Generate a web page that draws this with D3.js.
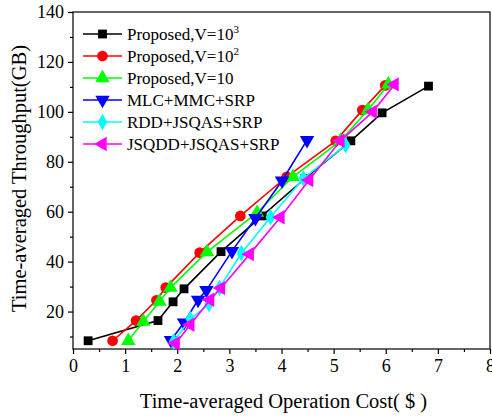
<!DOCTYPE html>
<html>
<head>
<meta charset="utf-8">
<script src="https://cdn.jsdelivr.net/npm/d3@7"></script>
<style>
  body { margin: 0; background: #fff; }
  text { font-family: "Liberation Serif", "Times New Roman", serif; }
</style>
</head>
<body>
<div id="chart"></div>
<script>
// series names, colours and marker symbols
var seriesNames = ["Proposed,V=10^3", "Proposed,V=10^2", "Proposed,V=10",
                   "MLC+MMC+SRP", "RDD+JSQAS+SRP", "JSQDD+JSQAS+SRP"];
var seriesColors = ["#000000", "#ff0000", "#00ff00", "#0000ff", "#00ffff", "#ff00ff"];
var seriesMarks = ["square", "circle", "up", "down", "diamond", "left"];

// cost values ($) per series
var costV1000 = [0.29, 1.63, 1.92, 2.13, 2.84, 3.63, 4.45, 5.33, 5.93, 6.82];
var costV100  = [0.76, 1.21, 1.60, 1.78, 2.43, 3.21, 4.10, 5.04, 5.55, 5.99];
var costV10   = [1.06, 1.35, 1.66, 1.87, 2.57, 3.53, 4.22, 5.13, 5.66, 6.05];
var costMLC   = [1.88, 2.13, 2.40, 2.56, 3.05, 3.50, 4.01, 4.49];
var costRDD   = [1.93, 2.25, 2.61, 2.81, 3.23, 3.79, 4.42, 5.23];
var costJSQDD = [1.97, 2.25, 2.63, 2.84, 3.39, 3.98, 4.53, 5.13, 5.75, 6.17];

// throughput values (GB) per series
var tpV1000 = [8.3, 16.4, 23.9, 29.1, 44.0, 58.3, 73.3, 88.4, 99.6, 110.3];
var tpV100  = [8.3, 16.4, 24.5, 29.6, 43.6, 58.3, 74.0, 88.4, 100.7, 110.6];
var tpV10   = [8.3, 16.0, 24.0, 29.6, 43.8, 59.6, 74.0, 88.4, 100.7, 111.0];
var tpMLC   = [8.5, 15.6, 24.7, 28.6, 44.2, 57.4, 72.4, 88.7];
var tpRDD   = [8.0, 17.0, 23.0, 29.5, 43.4, 57.8, 73.4, 86.7];
var tpJSQDD = [7.3, 14.7, 24.7, 29.4, 43.0, 57.8, 72.7, 88.4, 100.0, 111.0];

var xTicks = [0, 1, 2, 3, 4, 5, 6, 7, 8];
var yTicks = [20, 40, 60, 80, 100, 120, 140];

var allCost = [costV1000, costV100, costV10, costMLC, costRDD, costJSQDD];
var allTp = [tpV1000, tpV100, tpV10, tpMLC, tpRDD, tpJSQDD];

var width = 492,
    height = 418,
    margin = {top: 12, right: 2, bottom: 69, left: 73};

var svg = d3.select("#chart").append("svg")
    .attr("width", width)
    .attr("height", height);

var x = d3.scaleLinear().domain([0, 8]).range([margin.left, width - margin.right]);
var y = d3.scaleLinear().domain([5, 140]).range([height - margin.bottom, margin.top]);

// frame
svg.append("rect")
    .attr("x", x(0)).attr("y", y(140))
    .attr("width", x(8) - x(0)).attr("height", y(5) - y(140))
    .attr("fill", "none").attr("stroke", "#000").attr("stroke-width", 1.2);

// x axis with minor ticks
svg.append("g")
    .attr("transform", "translate(0," + y(5) + ")")
    .call(d3.axisBottom(x).tickValues(xTicks).tickSize(5).tickPadding(5).tickFormat(d3.format("d")));
svg.append("g")
    .attr("transform", "translate(0," + y(5) + ")")
    .call(d3.axisBottom(x).tickValues(d3.range(0.5, 8, 1)).tickSize(3).tickFormat(""));

// y axis with minor ticks
svg.append("g")
    .attr("transform", "translate(" + x(0) + ",0)")
    .call(d3.axisLeft(y).tickValues(yTicks).tickSize(5).tickPadding(4).tickFormat(d3.format("d")));
svg.append("g")
    .attr("transform", "translate(" + x(0) + ",0)")
    .call(d3.axisLeft(y).tickValues(d3.range(10, 140, 20)).tickSize(3).tickFormat(""));

svg.selectAll(".domain").remove();
svg.selectAll(".tick line").attr("stroke", "#000").attr("stroke-width", 1.2);
svg.selectAll(".tick text")
    .attr("fill", "#000")
    .style("font-size", "18px")
    .style("font-family", "'Liberation Serif', serif");

// axis titles
svg.append("text")
    .attr("x", (x(0) + x(8)) / 2 + 2)
    .attr("y", 408)
    .attr("text-anchor", "middle")
    .style("font-size", "20.5px")
    .text("Time-averaged Operation Cost( $ )");

svg.append("text")
    .attr("transform", "translate(26," + ((y(5) + y(140)) / 2 - 2) + ") rotate(-90)")
    .attr("text-anchor", "middle")
    .style("font-size", "20.5px")
    .text("Time-averaged Throughput(GB)");

// marker drawing
function symbolPath(kind) {
    if (kind === "square") return d3.symbol().type(d3.symbolSquare).size(78)();
    if (kind === "circle") return d3.symbol().type(d3.symbolCircle).size(90)();
    if (kind === "diamond") return d3.symbol().type(d3.symbolDiamond).size(80)();
    return d3.symbol().type(d3.symbolTriangle).size(90)();
}
function symbolRotate(kind) {
    if (kind === "down") return 180;
    if (kind === "left") return -90;
    return 0;
}

var line = d3.line()
    .x(function(d) { return x(d[0]); })
    .y(function(d) { return y(d[1]); });

seriesNames.forEach(function(name, i) {
    var pts = allCost[i].map(function(c, j) { return [c, allTp[i][j]]; });
    var g = svg.append("g").attr("class", "series");
    g.append("path")
        .datum(pts)
        .attr("d", line)
        .attr("fill", "none")
        .attr("stroke", seriesColors[i])
        .attr("stroke-width", 1.6);
    g.selectAll(".mark")
        .data(pts)
        .enter().append("path")
        .attr("class", "mark")
        .attr("d", symbolPath(seriesMarks[i]))
        .attr("transform", function(d) {
            return "translate(" + x(d[0]) + "," + y(d[1]) + ") rotate(" + symbolRotate(seriesMarks[i]) + ")";
        })
        .attr("fill", seriesColors[i]);
});

// legend
var legend = svg.append("g").attr("transform", "translate(83,34)");
seriesNames.forEach(function(name, i) {
    var row = legend.append("g").attr("transform", "translate(0," + (i * 22) + ")");
    row.append("line")
        .attr("x1", 0).attr("x2", 39)
        .attr("stroke", seriesColors[i]).attr("stroke-width", 1.6);
    row.append("path")
        .attr("d", symbolPath(seriesMarks[i]))
        .attr("transform", "translate(19.5,0) rotate(" + symbolRotate(seriesMarks[i]) + ")")
        .attr("fill", seriesColors[i]);
    var t = row.append("text")
        .attr("x", 44).attr("y", 6)
        .style("font-size", "17px");
    var parts = name.split("^");
    t.append("tspan").text(parts[0]);
    if (parts[1]) {
        t.append("tspan").attr("dy", -7).style("font-size", "11px").text(parts[1]);
    }
});
</script>
</body>
</html>
